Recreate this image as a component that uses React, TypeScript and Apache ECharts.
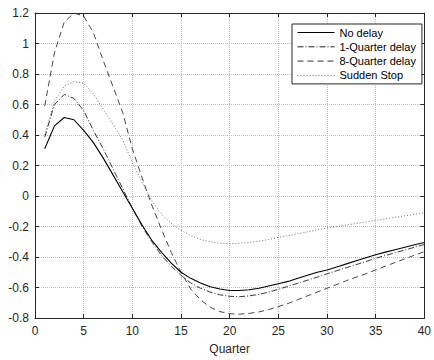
import React, { useEffect, useRef } from "react";
import * as echarts from "echarts";

const quarters = Array.from({ length: 40 }, (_, i) => i + 1);

const noDelay = [
  0.31, 0.46, 0.515, 0.5, 0.43, 0.35, 0.25, 0.14, 0.03, -0.08,
  -0.19, -0.29, -0.37, -0.44, -0.5, -0.54, -0.57, -0.595, -0.61, -0.62,
  -0.62, -0.615, -0.605, -0.59, -0.575, -0.56, -0.54, -0.52, -0.5, -0.485,
  -0.465, -0.445, -0.425, -0.405, -0.385, -0.368, -0.352, -0.336, -0.32, -0.305,
];
const oneQuarter = [
  0.386, 0.6, 0.666, 0.64, 0.56, 0.43, 0.31, 0.18, 0.05, -0.08,
  -0.2, -0.3, -0.39, -0.46, -0.52, -0.57, -0.605, -0.63, -0.648, -0.658,
  -0.66, -0.655, -0.645, -0.63, -0.612, -0.592, -0.572, -0.552, -0.532, -0.51,
  -0.49, -0.47, -0.45, -0.43, -0.408, -0.39, -0.372, -0.354, -0.336, -0.318,
];
const eightQuarter = [
  0.59, 0.94, 1.14, 1.2, 1.18, 1.07, 0.89, 0.72, 0.55, 0.31,
  0.12, -0.06, -0.22, -0.37, -0.5, -0.61, -0.68, -0.73, -0.758, -0.772,
  -0.775, -0.77, -0.76, -0.745, -0.725, -0.705, -0.68, -0.655, -0.63, -0.605,
  -0.58, -0.555, -0.532, -0.51, -0.485, -0.46, -0.436, -0.412, -0.388, -0.365,
];
const suddenStop = [
  0.4, 0.62, 0.72, 0.75, 0.74, 0.67, 0.57, 0.47, 0.37, 0.22,
  0.09, -0.03, -0.12, -0.18, -0.225, -0.26, -0.285, -0.3, -0.31, -0.312,
  -0.31, -0.305, -0.296, -0.285, -0.272, -0.26, -0.247, -0.235, -0.222, -0.21,
  -0.2, -0.19, -0.18, -0.17, -0.16, -0.15, -0.14, -0.13, -0.12, -0.11,
];

const seriesNames = ["No delay", "1-Quarter delay", "8-Quarter delay", "Sudden Stop"];
const xTicks = { min: 0, max: 40, interval: 5 };
const yTicks = { min: -0.8, max: 1.2, interval: 0.2 };

const FONT = "Liberation Sans, Arial, sans-serif";

export default function App() {
  const ref = useRef<HTMLDivElement>(null);
  useEffect(() => {
    if (!ref.current) return;
    const chart = echarts.init(ref.current, null, { renderer: "svg" });
    const toPairs = (arr: number[]) => quarters.map((q, i) => [q, arr[i]]);
    const axisLine = { show: true, onZero: false, lineStyle: { color: "#262626", width: 1 } };
    const tick = { show: true, inside: true, length: 4, lineStyle: { color: "#262626" } };
    const split = { show: true, lineStyle: { color: "#bcbcbc", type: [1, 1], width: 1 } };
    const labelStyle = { color: "#262626", fontSize: 12, fontFamily: FONT };
    const styles: any[] = [
      { color: "#000000", width: 1.1, type: "solid" },
      { color: "#222222", width: 0.9, type: [6, 2, 1, 2] },
      { color: "#333333", width: 0.9, type: [6, 4] },
      { color: "#666666", width: 0.9, type: [1, 2] },
    ];
    const datasets = [noDelay, oneQuarter, eightQuarter, suddenStop];
    chart.setOption({
      animation: false,
      backgroundColor: "#ffffff",
      grid: { left: 35, right: 7, top: 13, bottom: 40 },
      legend: {
        orient: "vertical",
        left: 292,
        top: 24,
        itemWidth: 37,
        itemHeight: 12,
        itemGap: 3.3,
        padding: [3, 6, 3, 5],
        borderColor: "#262626",
        borderWidth: 1,
        backgroundColor: "#ffffff",
        align: "left",
        itemStyle: { opacity: 0, borderWidth: 0 },
        lineStyle: { width: 1 },
        textStyle: { color: "#000", fontSize: 11, fontFamily: FONT },
        data: seriesNames,
      },
      xAxis: [
        {
          type: "value",
          min: xTicks.min,
          max: xTicks.max,
          interval: xTicks.interval,
          position: "bottom",
          axisLine,
          axisTick: tick,
          splitLine: split,
          axisLabel: { ...labelStyle, margin: 7 },
          name: "Quarter",
          nameLocation: "middle",
          nameGap: 25,
          nameTextStyle: { ...labelStyle },
        },
        {
          type: "value",
          min: xTicks.min,
          max: xTicks.max,
          interval: xTicks.interval,
          position: "top",
          axisLine,
          axisTick: tick,
          splitLine: { show: false },
          axisLabel: { show: false },
        },
      ],
      yAxis: [
        {
          type: "value",
          min: yTicks.min,
          max: yTicks.max,
          interval: yTicks.interval,
          position: "left",
          axisLine,
          axisTick: tick,
          splitLine: split,
          axisLabel: {
            ...labelStyle,
            margin: 6,
            formatter: (v: number) => String(Math.round(v * 10) / 10),
          },
        },
        {
          type: "value",
          min: yTicks.min,
          max: yTicks.max,
          interval: yTicks.interval,
          position: "right",
          axisLine,
          axisTick: tick,
          splitLine: { show: false },
          axisLabel: { show: false },
        },
      ],
      series: datasets.map((d, i) => ({
        name: seriesNames[i],
        type: "line",
        data: toPairs(d),
        showSymbol: false,
        symbol: "none",
        smooth: false,
        lineStyle: styles[i],
        itemStyle: { color: styles[i].color },
        z: 10 - i,
      })),
    });
    return () => chart.dispose();
  }, []);
  return (
    <div
      ref={ref}
      style={{ position: "absolute", left: 0, top: 0, width: 434, height: 360 }}
    />
  );
}
